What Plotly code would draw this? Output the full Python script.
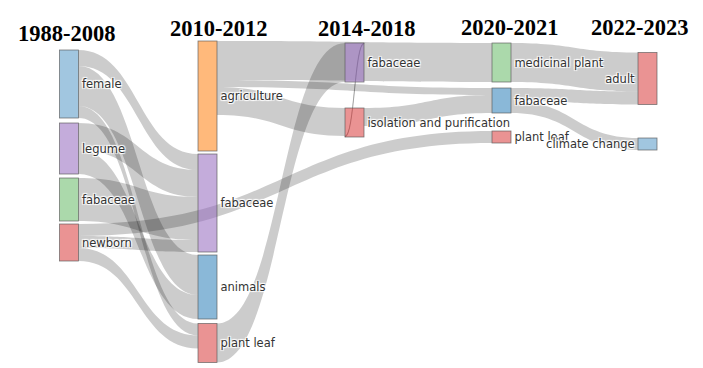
import plotly.graph_objects as go

W, H = 703, 368

# ---- data ----
node_labels = ["female", "legume", "fabaceae", "newborn",
               "agriculture", "fabaceae", "animals", "plant leaf",
               "fabaceae", "isolation and purification",
               "medicinal plant", "fabaceae", "plant leaf",
               "adult", "climate change", ""]
period_labels = ["1988-2008", "2010-2012", "2014-2018", "2020-2021", "2022-2023"]

link_source = [0, 0, 0, 1, 1, 2, 3, 3, 3, 4, 4, 4, 4, 7, 8, 9, 10, 11, 11]
link_target = [5, 6, 7, 5, 6, 5, 12, 5, 7, 10, 11, 9, 15, 8, 9, 11, 13, 13, 14]
link_value = [16, 40, 12, 27, 24, 43, 12, 12, 13, 39, 7, 28, 36, 39, 1, 18, 39, 13, 12]

# ---- styles / layout positions ----
c_blue = "rgba(31,119,180,0.42)"
c_purple = "rgba(148,103,189,0.55)"
c_green = "rgba(44,160,44,0.40)"
c_red = "rgba(214,39,40,0.5)"
c_orange = "rgba(255,127,14,0.55)"
c_blue2 = "rgba(31,119,180,0.52)"
clear = "rgba(0,0,0,0)"
node_colors = [c_blue, c_purple, c_green, c_red,
               c_orange, c_purple, c_blue2, c_red,
               c_purple, c_red,
               c_green, c_blue2, c_red,
               c_red, c_blue, clear]

col_px = [69, 207.5, 354.5, 501.5, 647.5]
node_x_px = [col_px[0]] * 4 + [col_px[1]] * 4 + [col_px[2]] * 2 + [col_px[3]] * 3 + [col_px[4]] * 3
node_y_px = [84, 148.5, 199.5, 242.5,
             96, 203, 287, 343,
             62.5, 122.5,
             62.5, 100.5, 137,
             78.5, 144, 520]

link_colors = ["rgba(0,0,0,0.2)"] * len(link_value)
link_colors[12] = clear

fig = go.Figure(go.Sankey(
    arrangement="fixed",
    domain=dict(x=[0, 1], y=[0, 1]),
    node=dict(
        label=node_labels,
        color=node_colors,
        x=[v / W for v in node_x_px],
        y=[v / H for v in node_y_px],
        pad=14.75,
        thickness=19,
        align="left",
        line=dict(color="rgba(90,90,90,0.8)", width=0.8),
    ),
    link=dict(source=link_source, target=link_target, value=link_value, color=link_colors),
    textfont=dict(family="DejaVu Sans", size=11.5, color="#333"),
))

head_x = [67, 219, 367, 510, 640]
head_y = [33, 29, 28, 27, 27]
for lab, hx, hy in zip(period_labels, head_x, head_y):
    fig.add_annotation(x=hx / W, y=1 - hy / H, xref="paper", yref="paper",
                       text="<b>%s</b>" % lab, showarrow=False,
                       xanchor="center", yanchor="middle",
                       font=dict(family="Liberation Serif", size=22.5, color="black"))

fig.update_layout(width=W, height=H, margin=dict(l=0, r=0, t=0, b=0),
                  paper_bgcolor="white", plot_bgcolor="white")
fig.write_html("out.html", config={"displayModeBar": False},
               post_script="document.body.style.margin='0px';document.body.style.overflow='hidden';")
